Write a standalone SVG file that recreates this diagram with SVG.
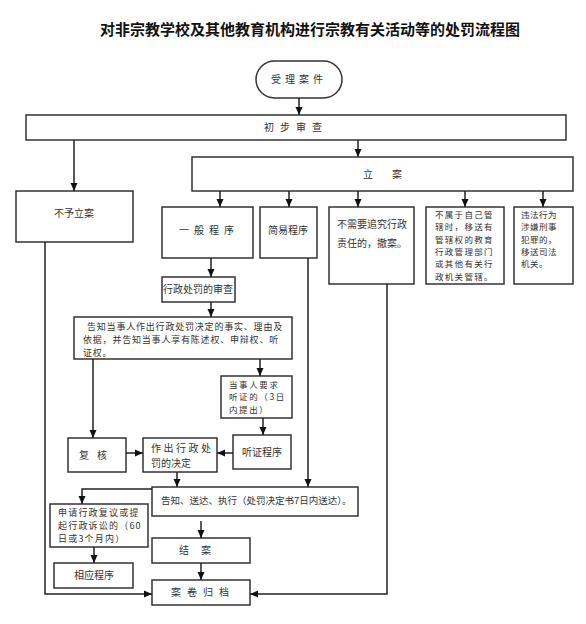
<svg xmlns="http://www.w3.org/2000/svg" width="586" height="624" viewBox="0 0 586 624">
<style>
.b{fill:#fff;stroke:#333;stroke-width:1.5}
.t{font-family:"Noto Sans CJK SC","Liberation Sans",sans-serif;font-size:10px;fill:#333}
.c{text-anchor:middle}
.ln{fill:none;stroke:#222;stroke-width:1.5}
</style>
<defs>
<marker id="ah" markerWidth="8" markerHeight="8" refX="8" refY="4" orient="auto" markerUnits="userSpaceOnUse"><path d="M0,0.5 L8,4 L0,7.5 z" fill="#111"/></marker>
</defs>
<rect width="586" height="624" fill="#fff"/>
<text x="310" y="35" font-family="'Noto Sans CJK SC',sans-serif" font-size="15" font-weight="bold" text-anchor="middle" fill="#111">对非宗教学校及其他教育机构进行宗教有关活动等的处罚流程图</text>

<g id="n_accept"><rect class="b" x="256" y="61" width="86" height="37" rx="18.5"/><text class="t c" x="299" y="83" letter-spacing="4">受理案件</text></g>
<g id="n_review"><rect class="b" x="26" y="115" width="540" height="25"/><text class="t c" x="296" y="131" letter-spacing="6">初步审查</text></g>
<g id="n_noreg"><rect class="b" x="16" y="191" width="117" height="51"/><text class="t c" x="74" y="217">不予立案</text></g>
<g id="n_reg"><rect class="b" x="192" y="157" width="381" height="34"/><text class="t" x="363" y="178">立</text><text class="t" x="392" y="178">案</text></g>
<g id="n_general"><rect class="b" x="162" y="207" width="91" height="51"/><text class="t c" x="209" y="234" letter-spacing="5">一般程序</text></g>
<g id="n_simple"><rect class="b" x="260" y="207" width="57" height="51"/><text class="t c" x="288" y="234">简易程序</text></g>
<g id="n_withdraw"><rect class="b" x="329" y="207" width="85" height="77"/><text class="t" x="337" y="228">不需要追究行政<tspan x="337" y="247">责任的，撤案。</tspan></text></g>
<g id="n_transfer"><rect class="b" x="426" y="207" width="78" height="77"/><text class="t" x="435" y="218" style="font-size:8.5px;letter-spacing:1.3px">不属于自己管<tspan x="435" y="230.3">辖时，移送有</tspan><tspan x="435" y="242.6">管辖权的教育</tspan><tspan x="435" y="254.9">行政管理部门</tspan><tspan x="435" y="267.2">或其他有关行</tspan><tspan x="435" y="279.5">政机关管辖。</tspan></text></g>
<g id="n_crime"><rect class="b" x="514" y="207" width="59" height="77"/><text class="t" x="521" y="218" style="font-size:8.5px;letter-spacing:0.5px">违法行为<tspan x="521" y="230.3">涉嫌刑事</tspan><tspan x="521" y="242.6">犯罪的，</tspan><tspan x="521" y="254.9">移送司法</tspan><tspan x="521" y="267.2">机关。</tspan></text></g>
<g id="n_check"><rect class="b" x="162" y="277" width="73" height="25"/><text class="t c" x="198" y="293">行政处罚的审查</text></g>
<g id="n_notify"><rect class="b" x="74" y="317" width="218" height="42"/><text class="t" x="87" y="329.5" style="font-size:9px;letter-spacing:0.8px">告知当事人作出行政处罚决定的事实、理由及<tspan x="83" y="342.5">依据，并告知当事人享有陈述权、申辩权、听</tspan><tspan x="83" y="355.5">证权。</tspan></text></g>
<g id="n_hearreq"><rect class="b" x="221" y="376" width="71" height="42"/><text class="t" x="229" y="388" style="font-size:8.5px;letter-spacing:1.6px">当事人要求<tspan x="229" y="400.3">听证的（3日</tspan><tspan x="229" y="412.6">内提出）</tspan></text></g>
<g id="n_hearing"><rect class="b" x="233" y="435" width="58" height="34"/><text class="t c" x="262" y="456">听证程序</text></g>
<g id="n_decide"><rect class="b" x="143" y="438" width="74" height="34"/><text class="t" x="151" y="452" letter-spacing="2.5">作出行政处<tspan x="151" y="467" letter-spacing="0">罚的决定</tspan></text></g>
<g id="n_recheck"><rect class="b" x="68" y="438" width="58" height="34"/><text class="t c" x="97" y="459" letter-spacing="8">复核</text></g>
<g id="n_deliver"><rect class="b" x="152" y="487" width="206" height="29"/><text class="t" x="161" y="504" style="font-size:9.5px">告知、送达、执行（处罚决定书7日内送达）。</text></g>
<g id="n_appeal"><rect class="b" x="50" y="504" width="98" height="43"/><text class="t" x="58" y="516" style="font-size:9px;letter-spacing:1.2px">申请行政复议或提<tspan x="58" y="529">起行政诉讼的（60</tspan><tspan x="58" y="542">日或3个月内）</tspan></text></g>
<g id="n_proc"><rect class="b" x="54" y="563" width="79" height="25"/><text class="t c" x="94" y="579">相应程序</text></g>
<g id="n_close"><rect class="b" x="152" y="538" width="98" height="25"/><text class="t c" x="201" y="554" letter-spacing="12">结案</text></g>
<g id="n_archive"><rect class="b" x="152" y="580" width="98" height="25"/><text class="t c" x="203" y="596" letter-spacing="6">案卷归档</text></g>

<g id="connectors" class="ln" marker-end="url(#ah)">
<path class="ln" marker-end="url(#ah)" d="M299,98 V115"/>
<path class="ln" marker-end="url(#ah)" d="M74,140 V191"/>
<path class="ln" marker-end="url(#ah)" d="M358,140 V157"/>
<path class="ln" marker-end="url(#ah)" d="M220,191 V207"/>
<path class="ln" marker-end="url(#ah)" d="M289,191 V207"/>
<path class="ln" marker-end="url(#ah)" d="M358,191 V207"/>
<path class="ln" marker-end="url(#ah)" d="M465,191 V207"/>
<path class="ln" marker-end="url(#ah)" d="M543,191 V207"/>
<path class="ln" marker-end="url(#ah)" d="M211,258 V277"/>
<path class="ln" marker-end="url(#ah)" d="M211,302 V317"/>
<path class="ln" marker-end="url(#ah)" d="M93,359 V438"/>
<path class="ln" marker-end="url(#ah)" d="M260,359 V376"/>
<path class="ln" marker-end="url(#ah)" d="M263,418 V435"/>
<path class="ln" marker-end="url(#ah)" d="M233,453 H217"/>
<path class="ln" marker-end="url(#ah)" d="M126,453 H143"/>
<path class="ln" marker-end="url(#ah)" d="M177,472 V487"/>
<path class="ln" marker-end="url(#ah)" d="M308,258 V487"/>
<path class="ln" marker-end="url(#ah)" d="M152,489 H82 V504"/>
<path class="ln" marker-end="url(#ah)" d="M94,547 V563"/>
<path class="ln" marker-end="url(#ah)" d="M201,521 V538"/>
<path class="ln" marker-end="url(#ah)" d="M201,563 V580"/>
<path class="ln" marker-end="url(#ah)" d="M45,242 V594 H152"/>
<path class="ln" marker-end="url(#ah)" d="M387,284 V594 H250"/>
</g>
</svg>
